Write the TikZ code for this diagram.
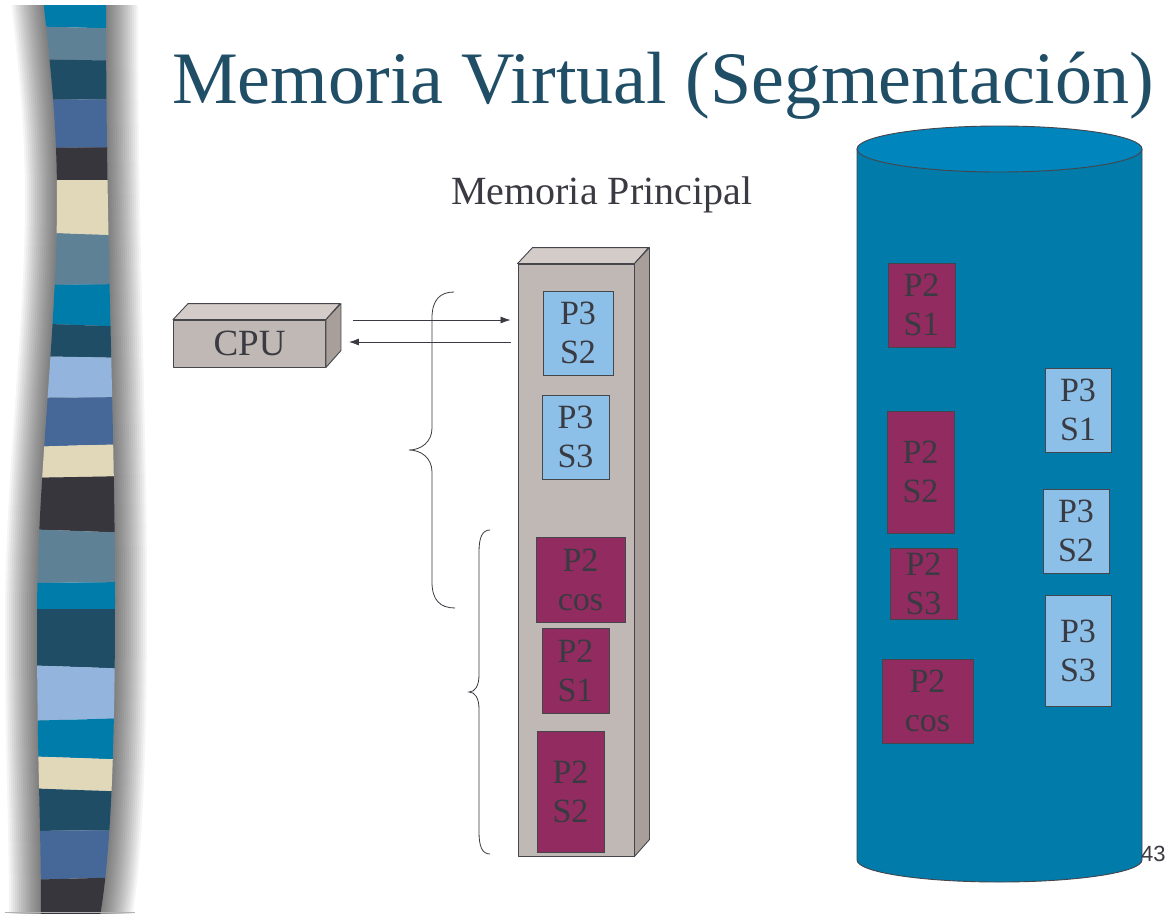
\documentclass[tikz,border=0pt]{standalone}
\usepackage{fontspec}
\setmainfont{Liberation Serif}
\newfontfamily\numfont{Liberation Sans}
\usetikzlibrary{arrows.meta,calc}

\definecolor{titleblue}{HTML}{1F4E66}
\definecolor{inkgrey}{HTML}{3A3A42}
\definecolor{edgegrey}{HTML}{45454C}
\definecolor{frontgrey}{HTML}{C0B8B5}
\definecolor{topgrey}{HTML}{D3CCC8}
\definecolor{sidegrey}{HTML}{A89E9A}
\definecolor{segblue}{HTML}{8CC0E8}
\definecolor{segred}{HTML}{922B5F}
\definecolor{diskbody}{HTML}{007BAA}
\definecolor{disktop}{HTML}{0086BC}
% stripe palette
\definecolor{bteal}{HTML}{007CAB}
\definecolor{bslate}{HTML}{5F8196}
\definecolor{bdark}{HTML}{1F4D65}
\definecolor{bblue}{HTML}{456899}
\definecolor{bcoal}{HTML}{38363D}
\definecolor{bsand}{HTML}{E0D8B9}
\definecolor{bsky}{HTML}{93B4DD}

\tikzset{
  face/.style={draw=edgegrey, line width=0.9pt, line join=round},
  boxfront/.style={face, fill=frontgrey, inner sep=0pt},
  seg/.style={draw=edgegrey, line width=0.9pt, inner sep=0pt, align=center,
    text=inkgrey, font=\fontsize{34}{39}\selectfont},
  segP3/.style={seg, fill=segblue},
  segP2/.style={seg, fill=segred},
  bus/.style={draw=inkgrey, line width=0.8pt, -{Latex[length=10pt,width=7pt]}},
  bracepath/.style={draw=inkgrey, line width=0.8pt},
}

\begin{document}
\begin{tikzpicture}[x=1pt, y=-1pt]
\useasboundingbox (0,0) rectangle (1170,913);
\fill[white] (0,0) rectangle (1170,913);

% ---- decorative striped bar with its soft shadow ----
\def\barpath{(43,-2) .. controls (52,80) and (57,130) .. (57,200)
  .. controls (57,330) and (37,480) .. (37,620)
  .. controls (37,760) and (41,820) .. (41,916)
  -- (100,916) .. controls (110,860) and (115,760) .. (115,600)
  .. controls (115,420) and (106,250) .. (106,-2) -- cycle}
\begin{scope}
  \clip (0,5) rectangle (160,913);
  \foreach \w in {4,8,...,64}{
    \draw[black, opacity=0.04, line width=\w pt, line join=round] \barpath;
  }
\end{scope}
\begin{scope}
  \clip (0,5) rectangle (160,913);
  \clip \barpath;
  \foreach \a/\b/\c/\d/\col in {
     0/0/26/29/bteal, 26/29/59/61/bslate, 59/61/100/99/bdark,
     100/99/148/147/bblue, 148/147/180/180/bcoal, 180/180/232/236/bsand,
     232/236/285/284/bslate, 285/284/323/327/bteal, 323/327/356/358/bdark,
     356/358/398/397/bsky, 398/397/447/444/bblue, 447/444/478/476/bsand,
     478/476/529/533/bcoal, 529/533/583/582/bslate, 583/582/609/609/bteal,
     609/609/665/669/bdark, 665/669/721/718/bsky, 721/718/756/760/bteal,
     756/760/788/792/bsand, 788/792/831/830/bdark, 831/830/880/877/bblue,
     880/877/920/920/bcoal}{
    \fill[\col] (20,\a) -- (135,\b) -- (135,\d) -- (20,\c) -- cycle;
  }
\end{scope}
\draw[black!30, line width=0.8pt] (5,912) -- (135,912);

% ---- headings ----
\node[anchor=base west, inner sep=0pt, text=titleblue, font=\fontsize{74}{80}\selectfont]
  (title) at (172,103) {Memoria Virtual (Segmentación)};
\node[anchor=base west, inner sep=0pt, text=inkgrey, font=\fontsize{40}{44}\selectfont]
  (mainmem) at (451,204) {Memoria Principal};

% ---- CPU block ----
\node[boxfront, minimum width=152pt, minimum height=47pt, text=inkgrey,
  font=\fontsize{37}{40}\selectfont] (cpu) at (249.5,343.5) {CPU};
\draw[face, fill=topgrey] (cpu.north west) -- ++(15,-16) -- ++(152,0) -- (cpu.north east) -- cycle;
\draw[face, fill=sidegrey] (cpu.north east) -- ++(15,-16) -- ++(0,47) -- (cpu.south east) -- cycle;

% ---- main memory column ----
\node[boxfront, minimum width=116pt, minimum height=592pt] (mem) at (576,560) {};
\draw[face, fill=topgrey] (mem.north west) -- ++(15,-16) -- ++(116,0) -- (mem.north east) -- cycle;
\draw[face, fill=sidegrey] (mem.north east) -- ++(15,-16) -- ++(0,592) -- (mem.south east) -- cycle;

% segments resident in main memory
\node[segP3, minimum width=70pt, minimum height=84pt] (m32) at (578,333) {P3\\S2};
\node[segP3, minimum width=67pt, minimum height=84pt] (m33) at (575.5,437) {P3\\S3};
\node[segP2, minimum width=89pt, minimum height=85pt] (m2c) at (580.5,579.5) {P2\\cos};
\node[segP2, minimum width=67pt, minimum height=85pt] (m21) at (575.5,670.5) {P2\\S1};
\node[segP2, minimum width=67pt, minimum height=121pt] (m22) at (570.5,791.5) {P2\\S2};

% ---- CPU <-> memory traffic ----
\draw[bus] ($(cpu.east)+(27,-23.5)$) -- ($(cpu.east -| mem.west)+(-7,-23.5)$);
\draw[bus] ($(cpu.east -| mem.west)+(-7,-1.5)$) -- ($(cpu.east)+(23,-1.5)$);

% ---- braces grouping the segments ----
\draw[bracepath] (454,292) .. controls (440,292) and (432,300) .. (432,318)
  -- (432,428) .. controls (432,442) and (421,450) .. (409,450)
  .. controls (421,450) and (432,458) .. (432,472)
  -- (432,582) .. controls (432,600) and (440,608) .. (455,608);
\draw[bracepath] (490,530) .. controls (482,530) and (479,538) .. (479,552)
  -- (479,675) .. controls (479,686) and (475,692) .. (469,692)
  .. controls (475,692) and (479,698) .. (479,709)
  -- (479,832) .. controls (479,846) and (482,854) .. (490,854);

% ---- secondary storage (disk) ----
\draw[face, fill=diskbody] (857,149) -- (857,860)
  arc[start angle=180, end angle=360, x radius=142.5pt, y radius=22pt]
  -- (1142,149) -- cycle;
\draw[face, fill=disktop] (999.5,149) ellipse[x radius=142.5pt, y radius=23pt];

\node[segP2, minimum width=67pt, minimum height=84pt] (d21) at (921.5,305) {P2\\S1};
\node[segP2, minimum width=67pt, minimum height=122pt] (d22) at (920.5,472) {P2\\S2};
\node[segP2, minimum width=67pt, minimum height=71pt] (d23) at (923.5,583.5) {P2\\S3};
\node[segP2, minimum width=91pt, minimum height=84pt] (d2c) at (927.5,701) {P2\\cos};
\node[segP3, minimum width=66pt, minimum height=84pt] (d31) at (1078,410) {P3\\S1};
\node[segP3, minimum width=66pt, minimum height=84pt] (d32) at (1076,531) {P3\\S2};
\node[segP3, minimum width=66pt, minimum height=111pt] (d33) at (1078,650.5) {P3\\S3};

% ---- slide number ----
\node[anchor=base west, inner sep=0pt, text=inkgrey, font=\numfont\fontsize{22}{24}\selectfont]
  (pageno) at (1141,861) {43};
\end{tikzpicture}
\end{document}
